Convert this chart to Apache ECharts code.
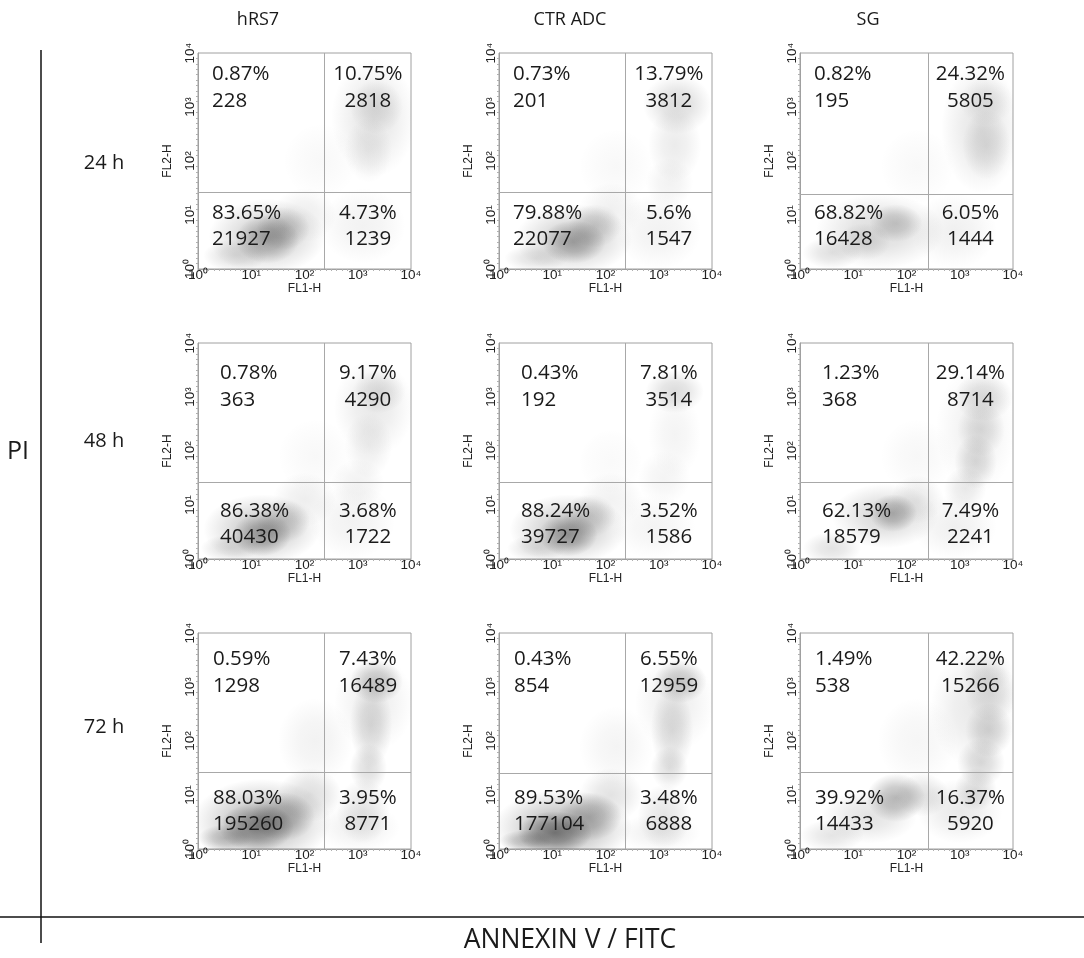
<!DOCTYPE html>
<html lang="en">
<head>
<meta charset="utf-8">
<script src="https://cdn.jsdelivr.net/npm/echarts@6/dist/echarts.min.js"></script>
</head>
<body style="margin:0;background:#fff;">
<div id="chart" style="width:1084px;height:958px;"></div>
<script type="text/javascript">

// column / row headings
var columns = ['hRS7', 'CTR ADC', 'SG'];
var rows = ['24 h', '48 h', '72 h'];
// axis decades (log10) and their tick labels
var decades = [0, 1, 2, 3, 4];
var decadeLabels = ['10⁰', '10¹', '10²', '10³', '10⁴'];

// quadrant gates per panel (log10 FL1-H, log10 FL2-H), row by row
var gateX = [2.38, 2.38, 2.40, 2.38, 2.38, 2.40, 2.38, 2.38, 2.40];
var gateY = [1.43, 1.43, 1.38, 1.43, 1.43, 1.43, 1.43, 1.41, 1.43];

// quadrant numbers: UL %, UL n, UR %, UR n, LL %, LL n, LR %, LR n
var statsA = ['0.87%', '228', '10.75%', '2818', '83.65%', '21927', '4.73%', '1239'];
var statsB = ['0.73%', '201', '13.79%', '3812', '79.88%', '22077', '5.6%', '1547'];
var statsC = ['0.82%', '195', '24.32%', '5805', '68.82%', '16428', '6.05%', '1444'];
var statsD = ['0.78%', '363', '9.17%', '4290', '86.38%', '40430', '3.68%', '1722'];
var statsE = ['0.43%', '192', '7.81%', '3514', '88.24%', '39727', '3.52%', '1586'];
var statsF = ['1.23%', '368', '29.14%', '8714', '62.13%', '18579', '7.49%', '2241'];
var statsG = ['0.59%', '1298', '7.43%', '16489', '88.03%', '195260', '3.95%', '8771'];
var statsH = ['0.43%', '854', '6.55%', '12959', '89.53%', '177104', '3.48%', '6888'];
var statsI = ['1.49%', '538', '42.22%', '15266', '39.92%', '14433', '16.37%', '5920'];

// cell clouds: [log FL1-H, log FL2-H, spread x, spread y (decades), density]
var cloudA = [[1.3,0.6,2.2,1.4,0.22],[1.3,0.55,1.2,0.9,0.3],[1.6,0.75,1.0,0.8,0.2],[0.7,0.25,1.2,0.6,0.15],
  [2.0,1.0,1.2,1.0,0.08],[2.3,2.0,1.4,1.4,0.03],[3.3,2.8,1.6,2.2,0.11],[3.35,3.0,1.0,1.0,0.12],
  [3.2,2.2,0.9,1.2,0.08],[3.1,0.8,1.6,1.4,0.06]];
var cloudB = [[1.4,0.55,2.2,1.3,0.22],[1.4,0.5,1.2,0.8,0.32],[1.8,0.8,1.0,0.8,0.18],[0.7,0.2,1.2,0.5,0.14],
  [2.1,1.1,1.2,1.0,0.07],[2.2,1.9,1.4,1.4,0.03],[3.35,3.05,1.3,1.1,0.16],[3.3,2.3,1.0,1.4,0.09],
  [3.2,1.6,0.9,0.9,0.06],[3.0,0.7,1.6,1.4,0.06]];
var cloudC = [[1.5,0.7,2.4,1.4,0.16],[1.8,0.85,1.0,0.7,0.2],[0.6,0.3,1.1,0.6,0.14],[1.2,0.5,1.0,0.7,0.12],
  [2.9,0.7,1.6,1.4,0.07],[3.4,2.6,1.5,2.4,0.12],[3.5,2.3,0.9,1.3,0.12],[3.5,3.1,1.0,0.9,0.1],
  [2.2,1.9,1.4,1.4,0.03]];
var cloudD = [[1.2,0.55,2.2,1.3,0.24],[1.2,0.45,1.1,0.8,0.36],[1.6,0.7,1.0,0.8,0.2],[0.6,0.2,1.1,0.5,0.15],
  [2.0,1.1,1.2,1.0,0.08],[2.2,1.9,1.4,1.4,0.03],[3.3,2.8,1.5,1.8,0.1],[3.4,3.1,1.0,0.8,0.12],
  [3.2,2.1,0.9,1.2,0.08],[3.0,1.4,1.0,0.9,0.06],[2.9,0.7,1.6,1.4,0.06]];
var cloudE = [[1.3,0.55,2.2,1.3,0.24],[1.3,0.45,1.1,0.8,0.38],[1.7,0.8,1.0,0.8,0.18],[0.7,0.2,1.1,0.5,0.14],
  [2.1,1.1,1.2,1.0,0.06],[3.3,3.1,1.1,0.8,0.16],[3.3,2.3,1.0,1.6,0.05],[3.1,1.5,1.0,1.0,0.05],
  [2.9,0.6,1.6,1.2,0.05],[2.1,1.8,1.2,1.2,0.025]];
var cloudF = [[1.6,0.8,2.0,1.2,0.18],[1.75,0.85,0.9,0.7,0.3],[0.6,0.2,1.1,0.6,0.13],[2.2,1.1,1.0,0.9,0.1],
  [3.3,1.8,0.8,1.0,0.16],[3.4,2.4,0.9,1.0,0.14],[3.45,3.0,1.1,0.9,0.15],[3.1,1.3,0.8,0.8,0.1],
  [3.3,2.4,1.5,2.4,0.07],[2.9,0.6,1.6,1.2,0.07],[2.2,1.9,1.4,1.4,0.035]];
var cloudG = [[1.2,0.5,2.6,1.6,0.3],[1.1,0.4,1.4,0.9,0.45],[1.6,0.6,1.2,0.9,0.3],[2.1,1.0,1.2,1.0,0.15],
  [0.5,0.2,1.0,0.5,0.25],[2.2,2.0,1.4,1.6,0.06],[3.35,3.1,1.0,0.8,0.25],[3.25,2.3,0.8,1.6,0.16],
  [3.2,1.5,0.7,0.9,0.15],[3.3,2.7,1.5,1.8,0.08],[3.1,0.7,1.0,1.2,0.12],[3.0,0.4,1.6,0.9,0.07]];
var cloudH = [[1.2,0.4,2.6,1.4,0.32],[1.05,0.3,1.4,0.8,0.5],[1.7,0.6,1.2,0.9,0.28],[2.1,1.0,1.2,1.0,0.13],
  [0.5,0.15,1.0,0.4,0.25],[2.2,1.9,1.4,1.5,0.05],[3.4,3.1,1.0,0.8,0.24],[3.25,2.2,0.8,1.6,0.15],
  [3.2,1.5,0.7,0.8,0.14],[3.3,2.7,1.5,1.8,0.08],[3.1,0.6,1.0,1.2,0.12],[3.0,0.3,1.6,0.7,0.07]];
var cloudI = [[1.8,0.95,1.1,0.9,0.32],[1.3,0.6,1.8,1.0,0.13],[0.6,0.25,1.2,0.6,0.12],[2.3,1.0,1.0,0.8,0.14],
  [3.0,0.7,1.6,1.2,0.1],[3.3,1.1,0.8,0.8,0.15],[3.4,1.6,0.9,0.9,0.18],[3.55,2.2,0.9,1.0,0.18],
  [3.6,2.9,1.0,1.1,0.14],[3.25,2.6,1.6,2.2,0.1],[3.5,3.3,1.0,0.8,0.1],[2.2,2.0,1.5,1.6,0.045]];

var stats = [statsA, statsB, statsC, statsD, statsE, statsF, statsG, statsH, statsI];
var clouds = [cloudA, cloudB, cloudC, cloudD, cloudE, cloudF, cloudG, cloudH, cloudI];

// layout
var panelLeft = [198, 499, 800];
var panelTop = [53, 343, 633];
var panelW = 213, panelH = 216;
var titleX = [258, 570, 868];
var rowLabelY = [163, 441, 727];
// text offsets inside the panels, per row
var textPadL = [14, 22, 15];
var upperY = [21, 30, 26];
var lowerY = [160, 168, 165];
var lineGap = 27;

var labelFont = 'Liberation Sans';
var textFont = 'Open Sans';

function tickLabel(v) {
    return decadeLabels[decades.indexOf(v)];
}

function renderCloud(params, api) {
    var c = api.coord([api.value(0), api.value(1)]);
    var s = api.size([api.value(2), api.value(3)]);
    var d = api.value(4);
    var rx = s[0] / 2, ry = s[1] / 2;
    return {
        type: 'circle',
        x: c[0],
        y: c[1],
        scaleY: ry / rx,
        shape: {cx: 0, cy: 0, r: rx},
        style: {
            fill: new echarts.graphic.RadialGradient(0.5, 0.5, 0.5, [
                {offset: 0, color: 'rgba(35,35,35,' + d + ')'},
                {offset: 0.45, color: 'rgba(35,35,35,' + (d * 0.7) + ')'},
                {offset: 0.8, color: 'rgba(35,35,35,' + (d * 0.25) + ')'},
                {offset: 1, color: 'rgba(35,35,35,0)'}
            ])
        }
    };
}

function buildOption() {
    var grids = [], xAxes = [], yAxes = [], series = [], graphics = [];

    for (var i = 0; i < 9; i++) {
        var row = Math.floor(i / 3), col = i % 3;
        var px = panelLeft[col], py = panelTop[row];
        grids.push({left: px, top: py, width: panelW, height: panelH,
            show: true, borderColor: '#a0a0a0', borderWidth: 1});
        xAxes.push({
            gridIndex: i, type: 'value', min: 0, max: 4, interval: 1,
            name: 'FL1-H', nameLocation: 'middle', nameGap: 5,
            nameTextStyle: {fontSize: 12, color: '#222', fontFamily: labelFont},
            axisLine: {lineStyle: {color: '#a0a0a0'}},
            axisTick: {show: false},
            minorTick: {show: true, splitNumber: 10, length: 2, lineStyle: {color: '#b0b0b0'}},
            splitLine: {show: false},
            axisLabel: {formatter: tickLabel, fontSize: 13.5, color: '#222', fontFamily: labelFont,
                margin: -1, showMinLabel: true, showMaxLabel: true}
        });
        yAxes.push({
            gridIndex: i, type: 'value', min: 0, max: 4, interval: 1,
            name: 'FL2-H', nameLocation: 'middle', nameGap: 24,
            nameTextStyle: {fontSize: 12, color: '#222', fontFamily: labelFont},
            axisLine: {lineStyle: {color: '#a0a0a0'}},
            axisTick: {show: false},
            minorTick: {show: true, splitNumber: 10, length: 2, lineStyle: {color: '#b0b0b0'}},
            splitLine: {show: false},
            axisLabel: {formatter: tickLabel, fontSize: 13.5, color: '#222', fontFamily: labelFont,
                rotate: 90, margin: 1, showMinLabel: true, showMaxLabel: true}
        });
        series.push({
            type: 'custom',
            xAxisIndex: i,
            yAxisIndex: i,
            clip: true,
            silent: true,
            animation: false,
            renderItem: renderCloud,
            encode: {x: 0, y: 1},
            data: clouds[i],
            markLine: {
                silent: true,
                symbol: 'none',
                animation: false,
                label: {show: false},
                lineStyle: {color: '#a8a8a8', width: 1, type: 'solid'},
                data: [{xAxis: gateX[i]}, {yAxis: gateY[i]}]
            }
        });

        // quadrant numbers
        var st = stats[i];
        var gx = px + panelW * gateX[i] / 4;
        var rightMid = (gx + px + panelW) / 2;
        var xl = px + textPadL[row];
        var yu = py + upperY[row], yl = py + lowerY[row];
        var items = [
            [st[0], xl, yu, 'left'], [st[1], xl, yu + lineGap, 'left'],
            [st[2], rightMid, yu, 'center'], [st[3], rightMid, yu + lineGap, 'center'],
            [st[4], xl, yl, 'left'], [st[5], xl, yl + lineGap - 1, 'left'],
            [st[6], rightMid, yl, 'center'], [st[7], rightMid, yl + lineGap - 1, 'center']
        ];
        items.forEach(function (t) {
            graphics.push({type: 'text', x: t[1], y: t[2], z: 100,
                style: {text: t[0], fill: '#1a1a1a', fontSize: 20.5, fontFamily: textFont,
                    textAlign: t[3], verticalAlign: 'middle'}});
        });
    }

    columns.forEach(function (name, k) {
        graphics.push({type: 'text', x: titleX[k], y: 20,
            style: {text: name, fill: '#1a1a1a', fontSize: 18, fontFamily: textFont, textAlign: 'center', verticalAlign: 'middle'}});
    });
    rows.forEach(function (name, k) {
        graphics.push({type: 'text', x: 104, y: rowLabelY[k],
            style: {text: name, fill: '#1a1a1a', fontSize: 20, fontFamily: textFont, textAlign: 'center', verticalAlign: 'middle'}});
    });
    graphics.push({type: 'text', x: 18, y: 452,
        style: {text: 'PI', fill: '#1a1a1a', fontSize: 25, fontFamily: textFont, textAlign: 'center', verticalAlign: 'middle'}});
    graphics.push({type: 'text', x: 570, y: 940,
        style: {text: 'ANNEXIN V / FITC', fill: '#1a1a1a', fontSize: 26.5, fontFamily: textFont, textAlign: 'center', verticalAlign: 'middle'}});
    graphics.push({type: 'line', shape: {x1: 41, y1: 50, x2: 41, y2: 943}, style: {stroke: '#111', lineWidth: 1.5}});
    graphics.push({type: 'line', shape: {x1: 0, y1: 917, x2: 1084, y2: 917}, style: {stroke: '#111', lineWidth: 1.5}});

    return {
        backgroundColor: '#fff',
        animation: false,
        grid: grids,
        xAxis: xAxes,
        yAxis: yAxes,
        series: series,
        graphic: graphics
    };
}

var myChart = echarts.init(document.getElementById('chart'));
myChart.setOption(buildOption());

</script>
</body>
</html>
